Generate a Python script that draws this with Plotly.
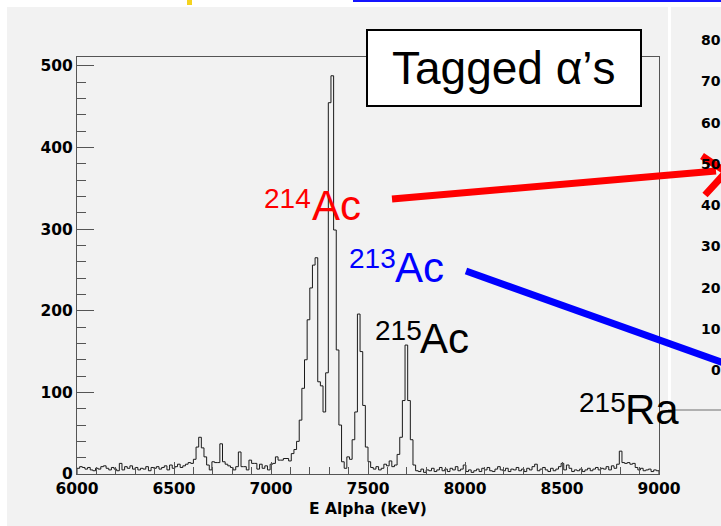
import plotly.graph_objects as go

# ---------------- data ----------------
E_MIN, E_MAX, N_BINS = 6000, 9000, 220
counts = [
    7, 9, 8, 6, 8, 5, 4, 7, 6, 9,
    10, 7, 5, 8, 6, 4, 13, 5, 9, 7,
    10, 6, 8, 5, 7, 6, 9, 4, 8, 7,
    9, 6, 8, 10, 5, 11, 7, 9, 12, 8,
    10, 12, 14, 13, 18, 33, 45, 32, 21, 11,
    5, 15, 14, 14, 37, 15, 12, 10, 8, 5,
    9, 27, 9, 9, 5, 17, 13, 13, 6, 12,
    7, 10, 5, 12, 13, 21, 17, 17, 19, 19,
    16, 25, 30, 40, 66, 105, 140, 189, 228, 256,
    265, 113, 108, 76, 124, 455, 488, 299, 152, 60,
    15, 7, 21, 18, 42, 76, 196, 150, 84, 33,
    15, 8, 6, 9, 5, 7, 12, 10, 16, 9,
    11, 24, 45, 90, 158, 90, 42, 11, 4, 3,
    6, 2, 5, 4, 7, 3, 5, 8, 4, 6,
    3, 7, 5, 9, 4, 6, 11, 3, 5, 2,
    4, 6, 3, 7, 5, 8, 4, 3, 6, 9,
    5, 4, 7, 3, 6, 5, 8, 4, 6, 3,
    7, 5, 9, 12, 4, 6, 8, 5, 3, 7,
    4, 6, 9, 13, 5, 11, 7, 3, 5, 4,
    6, 3, 5, 7, 4, 6, 8, 5, 7, 6,
    9, 5, 10, 7, 12, 28, 14, 13, 14, 12,
    13, 8, 5, 7, 4, 5, 6, 3, 5, 4,
]
x_tick_vals = [6000, 6500, 7000, 7500, 8000, 8500, 9000]
y_tick_vals = [0, 100, 200, 300, 400, 500]
x_title = "E Alpha (keV)"
box_title = "Tagged α’s"
isotope_mass = ["214", "213", "215", "215"]
isotope_elem = ["Ac", "Ac", "Ac", "Ra"]
isotope_color = ["#ff0000", "#0000ff", "#000000", "#000000"]
side_ticks = ["80", "70", "60", "50", "40", "30", "20", "10", "0"]

# ---------------- geometry ----------------
W, H = 721, 526
PL, PR, PT, PB = 77, 659, 57, 474
GRAY = "#f2f2f2"
AX = "#555555"
TICKFONT = dict(family="DejaVu Sans", size=15.5, color="black", weight="bold")
ARIAL = "Liberation Sans, Arial, sans-serif"

bw = (E_MAX - E_MIN) / N_BINS
edges = [E_MIN + i * bw for i in range(N_BINS + 1)]
xs = [edges[0]] + edges[:-1] + [edges[-1], edges[-1]]
ys = [0] + counts + [counts[-1], 0]

fig = go.Figure()
fig.add_trace(go.Scatter(x=xs, y=ys, mode="lines", line=dict(color="#1a1a1a", width=1, shape="hv"),
                         hoverinfo="skip", showlegend=False))
fig.add_trace(go.Scatter(x=[0], y=[0], xaxis="x2", yaxis="y2", mode="markers",
                         marker=dict(opacity=0), hoverinfo="skip", showlegend=False))

shapes = []
def rect(x0, y0, x1, y1, fill, layer="below", line=None):
    d = dict(type="rect", xref="x2", yref="y2", x0=x0, y0=y0, x1=x1, y1=y1,
             fillcolor=fill, layer=layer, line=dict(width=0))
    if line:
        d["line"] = line
    shapes.append(d)

# surrounding slide decorations
rect(0, 0, W, 7, "white")
rect(0, 0, 7, H, "white")
rect(668, 0, 671, 410, "white")
rect(668, 409, W, 411, "#b0b0b0")
rect(353, 0, W, 2, "#1414ff")
rect(187, 0, 192, 5, "#f5d31f")
# Tagged box
rect(367, 30, 641, 106, "white", layer="above", line=dict(color="black", width=2))
# arrows
shapes.append(dict(type="line", xref="x2", yref="y2", x0=392, y0=199, x1=716, y1=171,
                   line=dict(color="#ff0000", width=7), layer="above"))
shapes.append(dict(type="path", xref="x2", yref="y2", path="M 702 156 L 726 172 L 705 195",
                   line=dict(color="#ff0000", width=7), layer="above"))
shapes.append(dict(type="line", xref="x2", yref="y2", x0=466, y0=271, x1=724, y1=363,
                   line=dict(color="#0000ff", width=7), layer="above"))

ann = []
# isotope labels (superscript mass + element)
sup_pos = [(262, 198), (347, 258), (373, 330), (577, 402)]
el_pos = [(310, 205), (393, 267), (418, 338), (623, 409)]
for m, e, c, sp, ep in zip(isotope_mass, isotope_elem, isotope_color, sup_pos, el_pos):
    ann.append(dict(text=m, x=sp[0], y=sp[1], xref="x2", yref="y2", xanchor="left", yanchor="middle",
                    showarrow=False, font=dict(family=ARIAL, size=28, color=c)))
    ann.append(dict(text=e, x=ep[0], y=ep[1], xref="x2", yref="y2", xanchor="left", yanchor="middle",
                    showarrow=False, font=dict(family=ARIAL, size=42, color=c)))
ann.append(dict(text=box_title, x=504, y=68, xref="x2", yref="y2", xanchor="center", yanchor="middle",
                showarrow=False, font=dict(family=ARIAL, size=46, color="black")))
ann.append(dict(text=x_title, x=368, y=509, xref="x2", yref="y2", xanchor="center", yanchor="middle",
                showarrow=False, font=TICKFONT))
for k, t in enumerate(side_ticks):
    ann.append(dict(text=t, x=719, xshift=4, y=40 + k * 41.25, xref="x2", yref="y2", xanchor="right",
                    yanchor="middle", showarrow=False, font=dict(family="DejaVu Sans", size=14,
                                                                  color="black", weight="bold")))

fig.update_layout(
    width=W, height=H, autosize=False,
    margin=dict(l=0, r=0, t=0, b=0, autoexpand=False),
    paper_bgcolor=GRAY, plot_bgcolor="rgba(0,0,0,0)",
    showlegend=False, hovermode=False,
    xaxis=dict(domain=[PL / W, PR / W], range=[E_MIN, E_MAX], tickvals=x_tick_vals,
               ticks="inside", ticklen=12, tickwidth=1, tickcolor=AX,
               showline=True, linecolor=AX, linewidth=1, mirror=True,
               showgrid=False, zeroline=False, tickfont=TICKFONT, automargin=False,
               minor=dict(dtick=100, ticks="inside", ticklen=7, tickcolor=AX, showgrid=False),
               anchor="y"),
    yaxis=dict(domain=[(H - PB) / H, (H - PT) / H], range=[0, 511], tickvals=y_tick_vals,
               ticks="inside", ticklen=17, tickwidth=1, tickcolor=AX,
               showline=True, linecolor=AX, linewidth=1, mirror=True,
               showgrid=False, zeroline=False, tickfont=TICKFONT, automargin=False,
               minor=dict(dtick=20, ticks="inside", ticklen=9, tickcolor=AX, showgrid=False),
               anchor="x"),
    xaxis2=dict(domain=[0, 1], range=[0, W], visible=False, anchor="y2", fixedrange=True,
                automargin=False),
    yaxis2=dict(domain=[0, 1], range=[H, 0], visible=False, anchor="x2", fixedrange=True,
                automargin=False),
    shapes=shapes, annotations=ann,
)
fig.write_html(
    "out.html",
    config={"displayModeBar": False},
    post_script="document.body.style.margin='0';document.body.style.overflow='hidden';",
)
